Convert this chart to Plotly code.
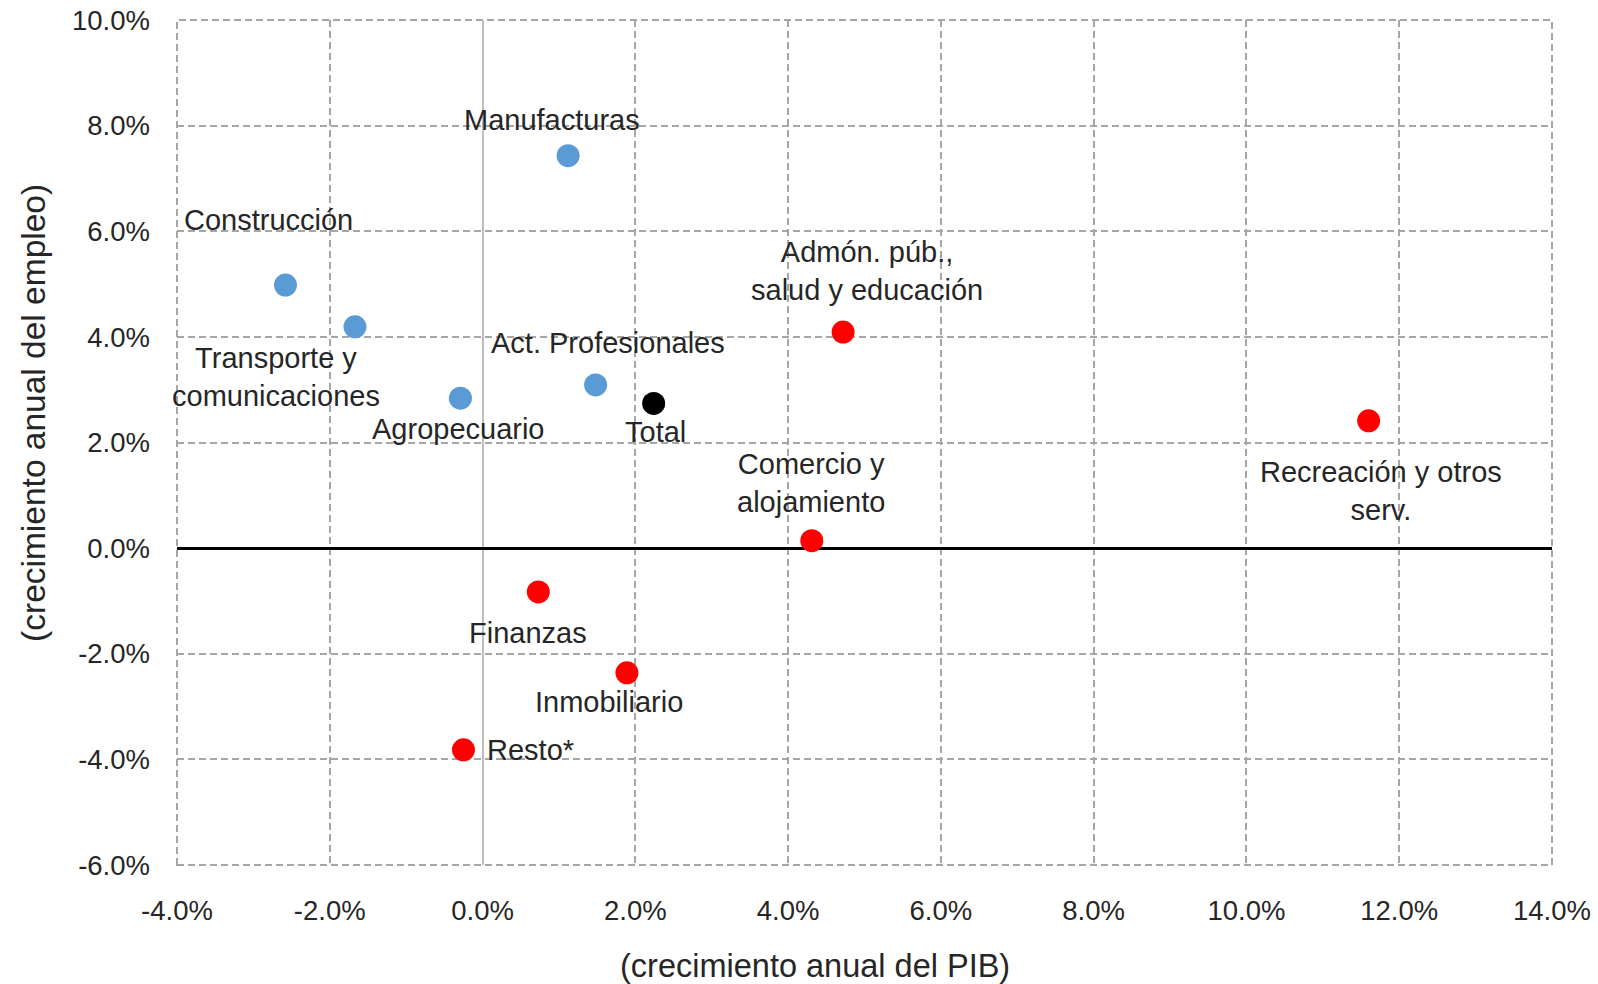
import plotly.graph_objects as go

# Data: (GDP growth %, employment growth %)
sectors = ["Manufacturas", "Construcción", "Transporte y<br>comunicaciones", "Agropecuario",
           "Act. Profesionales", "Total", "Admón. púb.,<br>salud y educación", "Comercio y<br>alojamiento",
           "Recreación y otros<br>serv.", "Finanzas", "Inmobiliario", "Resto*"]
pib = [1.12, -2.58, -1.67, -0.29, 1.48, 2.24, 4.72, 4.31, 11.60, 0.73, 1.89, -0.25]
empleo = [7.43, 4.98, 4.19, 2.84, 3.09, 2.74, 4.09, 0.14, 2.41, -0.83, -2.36, -3.82]
grupo = ["azul", "azul", "azul", "azul", "azul", "total", "rojo", "rojo", "rojo", "rojo", "rojo", "rojo"]

x_ticks = [-4, -2, 0, 2, 4, 6, 8, 10, 12, 14]
x_ticklabels = ["-4.0%", "-2.0%", "0.0%", "2.0%", "4.0%", "6.0%", "8.0%", "10.0%", "12.0%", "14.0%"]
y_ticks = [-6, -4, -2, 0, 2, 4, 6, 8, 10]
y_ticklabels = ["-6.0%", "-4.0%", "-2.0%", "0.0%", "2.0%", "4.0%", "6.0%", "8.0%", "10.0%"]

x_title = "(crecimiento anual del PIB)"
y_title = "(crecimiento anual del empleo)"

colores = {"azul": "#5B9BD5", "rojo": "#FF0000", "total": "#000000"}

# label placement (data coords of label centre) and anchors
label_pos = {
    "Manufacturas": (0.91, 8.11, "center"),
    "Construcción": (-2.80, 6.22, "center"),
    "Transporte y<br>comunicaciones": (-2.70, 3.24, "center"),
    "Agropecuario": (-0.31, 2.26, "center"),
    "Act. Profesionales": (1.64, 3.88, "center"),
    "Total": (2.27, 2.20, "center"),
    "Admón. púb.,<br>salud y educación": (5.03, 5.25, "center"),
    "Comercio y<br>alojamiento": (4.30, 1.24, "center"),
    "Recreación y otros<br>serv.": (11.76, 1.08, "center"),
    "Finanzas": (0.60, -1.60, "center"),
    "Inmobiliario": (1.65, -2.92, "center"),
    "Resto*": (0.03, -3.82, "left"),
}

FONT = "Liberation Sans, Arial, sans-serif"
TXT = "#262626"
GRID = "#A6A6A6"

fig = go.Figure()
fig.add_trace(go.Scatter(
    x=pib, y=empleo, mode="markers",
    marker=dict(size=23, color=[colores[g] for g in grupo], line=dict(width=0)),
    text=sectors, hoverinfo="text+x+y", showlegend=False,
))

for s in sectors:
    lx, ly, anc = label_pos[s]
    fig.add_annotation(x=lx, y=ly, text=s, showarrow=False, xanchor=anc, yanchor="middle",
                       font=dict(family=FONT, size=29, color=TXT), align="center")

# axis titles (offset as in the original)
fig.add_annotation(xref="paper", yref="paper", x=0.464, y=-0.119, text=x_title, showarrow=False,
                   xanchor="center", yanchor="middle", font=dict(family=FONT, size=32.5, color=TXT))
fig.add_annotation(xref="paper", yref="paper", x=-0.104, y=0.535, text=y_title, showarrow=False,
                   textangle=-90, xanchor="center", yanchor="middle",
                   font=dict(family=FONT, size=33.5, color=TXT))

# dashed plot-area border
fig.add_shape(type="rect", xref="paper", yref="paper", x0=0, x1=1, y0=0, y1=1,
              line=dict(color=GRID, width=2, dash="7px,4px"), layer="below")

axis_common = dict(
    showgrid=True, gridcolor=GRID, gridwidth=2, griddash="7px,4px",
    showline=False, ticks="", automargin=False,
    tickfont=dict(family=FONT, size=27.5, color=TXT),
)

fig.update_xaxes(range=[-4, 14], tickvals=x_ticks, ticktext=x_ticklabels,
                 zeroline=True, zerolinecolor="#BFBFBF", zerolinewidth=2, ticklabelstandoff=26,
                 **axis_common)
fig.update_yaxes(range=[-6, 10], tickvals=y_ticks, ticktext=y_ticklabels,
                 zeroline=True, zerolinecolor="#000000", zerolinewidth=2.5,
                 ticklabelstandoff=26, **axis_common)

fig.update_layout(
    width=1598, height=984,
    margin=dict(l=177, r=46, t=20, b=119),
    plot_bgcolor="white", paper_bgcolor="white",
    font=dict(family=FONT),
)

fig.write_html("out.html", config={"displayModeBar": False},
               post_script="document.body.style.margin='0';")
